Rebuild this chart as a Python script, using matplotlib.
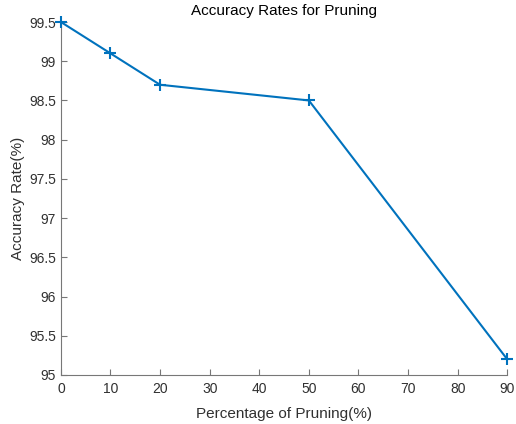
import matplotlib
matplotlib.use("Agg")
import matplotlib.pyplot as plt

pruning = [0, 10, 20, 50, 90]
accuracy = [99.5, 99.1, 98.7, 98.5, 95.2]
xticks = [0, 10, 20, 30, 40, 50, 60, 70, 80, 90]
yticks = [95, 95.5, 96, 96.5, 97, 97.5, 98, 98.5, 99, 99.5]

plt.rcParams['font.family'] = ['Liberation Sans', 'DejaVu Sans']
fig = plt.figure(figsize=(5.16, 4.24), dpi=100)
ax = fig.add_axes([0.118, 0.1156, 0.865, 0.8325])
ax.plot(pruning, accuracy, color='#0072BD', linewidth=1.5, marker='+', markersize=9, markeredgewidth=1.5, clip_on=False, zorder=3)
ax.set_xlim(0, 90)
ax.set_ylim(95, 99.5)
ax.set_xticks(xticks)
ax.set_yticks(yticks)
ax.set_yticklabels([f"{v:g}" for v in yticks])
for s in ['top', 'right']:
    ax.spines[s].set_visible(False)
for s in ['left', 'bottom']:
    ax.spines[s].set_color('#777777')
    ax.spines[s].set_linewidth(0.8)
ax.tick_params(direction='in', length=4, color='#777777', labelcolor='#303030', labelsize=10)
ax.tick_params(axis='x', pad=5)
ax.set_xlabel('Percentage of Pruning(%)', fontsize=11, color='#303030', labelpad=8)
ax.set_ylabel('Accuracy Rate(%)', fontsize=11, color='#303030', labelpad=3)
ax.set_title('Accuracy Rates for Pruning', fontsize=11, color='#000000', pad=5)
fig.savefig('out.png', dpi=100)
